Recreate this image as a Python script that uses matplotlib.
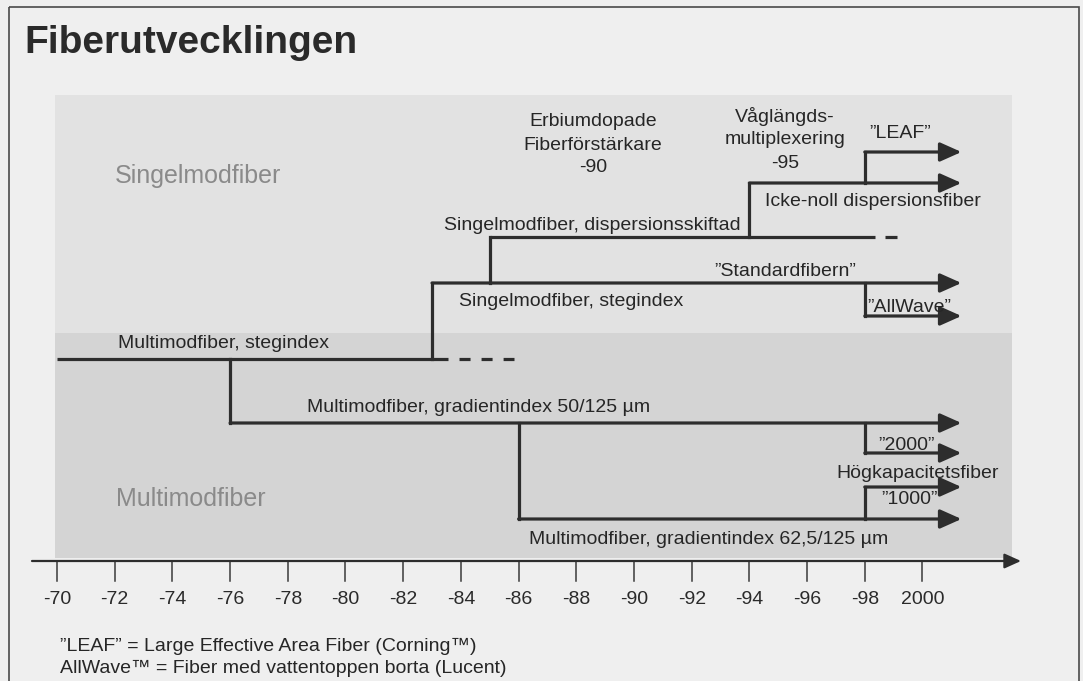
import matplotlib
matplotlib.use("Agg")
import matplotlib.pyplot as plt
from matplotlib.patches import Rectangle
from matplotlib.transforms import Affine2D

plt.rcParams['font.family'] = ['Liberation Sans', 'DejaVu Sans']

# ---------------- data ----------------
tick_years = [1970, 1972, 1974, 1976, 1978, 1980, 1982, 1984, 1986, 1988,
              1990, 1992, 1994, 1996, 1998, 2000]
tick_labels = ['-70', '-72', '-74', '-76', '-78', '-80', '-82', '-84', '-86',
               '-88', '-90', '-92', '-94', '-96', '-98', '2000']

start_year = 1970
now_year = 2001.35          # arrow tips (still in use)
multi_step_solid_end = 1983.55
multi_step_dash_end = 1985.85
disp_solid_end = 1998.35
disp_dash = (1998.7, 1999.1)

# branch years
y_grad50 = 1976
y_single_step = 1983
y_disp = 1985
y_grad62 = 1986
y_nzdsf = 1994
y_new = 1998

# ---------------- layout (pixel rows) ----------------
W, H = 1083, 681
row = dict(leaf=152, nz=183, disp=237, std=283, allw=316, multi=359,
           g50=423, f2000=453, f1000=487, g62=519, axis=561)

fig = plt.figure(figsize=(W / 100, H / 100), dpi=100)
fig.patch.set_facecolor('#efefef')
ax = fig.add_axes([0, 0, 1, 1])
px_per_year = 28.85
x0_px = 57
ax.set_xlim(start_year - x0_px / px_per_year, start_year + (W - x0_px) / px_per_year)
ax.set_ylim(H, 0)
ax.axis('off')

P = Affine2D().scale(1 / W, -1 / H).translate(0, 1) + fig.transFigure

# frame and background bands
fig.patches.append(Rectangle((9, 7), 1070, 700, transform=P, fill=False,
                             ec='#4a4a4a', lw=1.2))
ax.add_patch(Rectangle((55, 95), 957, 238, transform=P, fc='#e2e2e2', ec='none', zorder=0))
ax.add_patch(Rectangle((55, 333), 957, 225, transform=P, fc='#d4d4d4', ec='none', zorder=0))

LC = '#2d2d2d'
LW = 2.3

def vline(x, ya, yb):
    ax.plot([x, x], [row[ya], row[yb]], color=LC, lw=LW,
            solid_capstyle='projecting', zorder=3)

def hline(xa, xb, r):
    ax.plot([xa, xb], [row[r], row[r]], color=LC, lw=LW,
            solid_capstyle='butt', zorder=3)

def harrow(xa, r):
    ax.annotate('', xy=(now_year, row[r]), xytext=(xa, row[r]),
                arrowprops=dict(arrowstyle='-|>,head_length=1.3,head_width=0.58',
                                mutation_scale=10, lw=LW, color=LC,
                                shrinkA=0, shrinkB=0), zorder=3)

# multimode step index
hline(start_year, multi_step_solid_end, 'multi')
ax.plot([multi_step_solid_end, multi_step_dash_end], [row['multi']] * 2, color=LC,
        lw=LW, ls=(3.45, (3.45, 3.45)), dash_capstyle='butt', zorder=3)
# graded index 50/125
vline(y_grad50, 'multi', 'g50')
harrow(y_grad50, 'g50')
# graded index 62.5/125
vline(y_grad62, 'g50', 'g62')
harrow(y_grad62, 'g62')
# single-mode step index
vline(y_single_step, 'multi', 'std')
harrow(y_single_step, 'std')
# dispersion shifted
vline(y_disp, 'std', 'disp')
hline(y_disp, disp_solid_end, 'disp')
hline(disp_dash[0], disp_dash[1], 'disp')
# non-zero dispersion
vline(y_nzdsf, 'disp', 'nz')
harrow(y_nzdsf, 'nz')
# new fibres around 1998
vline(y_new, 'nz', 'leaf')
harrow(y_new, 'leaf')
vline(y_new, 'std', 'allw')
harrow(y_new, 'allw')
vline(y_new, 'g50', 'f2000')
harrow(y_new, 'f2000')
vline(y_new, 'g62', 'f1000')
harrow(y_new, 'f1000')

# time axis
ax.annotate('', xy=(start_year + (1021 - x0_px) / px_per_year, row['axis']),
            xytext=(start_year - (x0_px - 32) / px_per_year, row['axis']),
            arrowprops=dict(arrowstyle='-|>,head_length=1.0,head_width=0.45',
                            mutation_scale=10, lw=1.6, color=LC,
                            shrinkA=0, shrinkB=0))
for yr, lab in zip(tick_years, tick_labels):
    ax.plot([yr, yr], [row['axis'], row['axis'] + 20], color='#3a3a3a', lw=1.1)
    ax.text(yr, 600, lab, ha='center', va='center', fontsize=14, color='#2a2a2a')

TC = '#262626'
FS = 14

def t(x, y, s, ha='left', fs=FS, **kw):
    ax.text(x, y, s, transform=P, ha=ha, va='center', fontsize=fs, color=TC, **kw)

# title
ax.text(24, 53, 'Fiberutvecklingen', transform=P, ha='left', va='baseline',
        fontsize=28, fontweight='bold', color='#2a2a2a')
# region labels
ax.text(115, 183, 'Singelmodfiber', transform=P, ha='left', va='baseline',
        fontsize=18, color='#8a8a8a')
ax.text(116, 506, 'Multimodfiber', transform=P, ha='left', va='baseline',
        fontsize=18, color='#8a8a8a')

t(118, 344, 'Multimodfiber, stegindex')
t(307, 407, 'Multimodfiber, gradientindex 50/125 µm')
t(529, 540, 'Multimodfiber, gradientindex 62,5/125 µm')
t(459, 302, 'Singelmodfiber, stegindex')
t(714, 272, '”Standardfibern”')
t(444, 225, 'Singelmodfiber, dispersionsskiftad')
t(765, 202, 'Icke-noll dispersionsfiber')
t(900, 133, '”LEAF”', ha='center')
t(867, 308, '”AllWave”')
t(907, 445, '”2000”', ha='center')
t(836, 473, 'Högkapacitetsfiber')
t(910, 499, '”1000”', ha='center')
for i, s in enumerate(['Erbiumdopade', 'Fiberförstärkare', '-90']):
    t(593, 122 + 23 * i, s, ha='center')
for i, s in enumerate(['Våglängds-', 'multiplexering', '-95']):
    t(785, 117 + 23 * i, s, ha='center')

# footnotes
ax.text(60, 651, '”LEAF” = Large Effective Area Fiber (Corning™)',
        transform=P, ha='left', va='baseline', fontsize=14, color=TC)
ax.text(60, 673, 'AllWave™ = Fiber med vattentoppen borta (Lucent)',
        transform=P, ha='left', va='baseline', fontsize=14, color=TC)

fig.savefig('out.png', dpi=100, facecolor=fig.get_facecolor())
